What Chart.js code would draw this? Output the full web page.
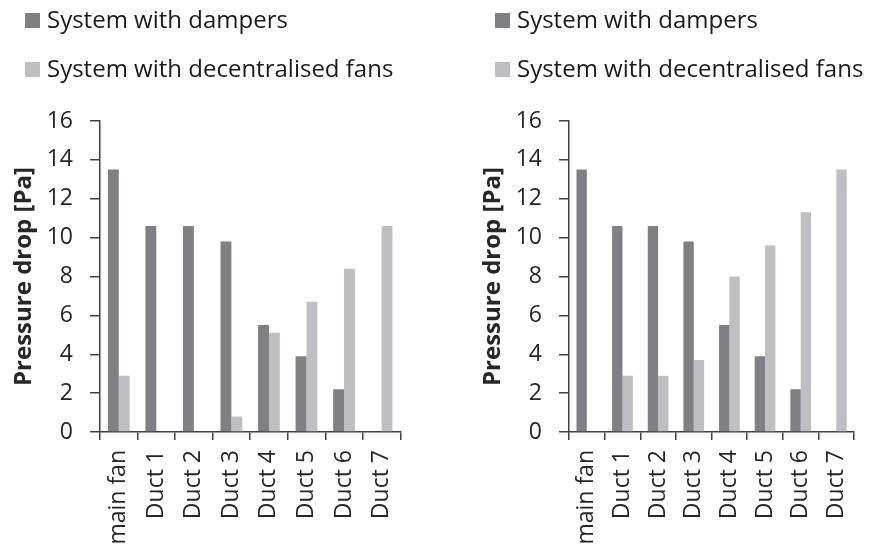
<!DOCTYPE html>
<html>
<head>
<meta charset="utf-8">
<script src="https://cdn.jsdelivr.net/npm/chart.js@4"></script>
<style>
  body { margin: 0; background: #fff; width: 874px; height: 554px; overflow: hidden; position: relative; font-family: "Open Sans", sans-serif; }
  .panel { position: absolute; top: 0; height: 554px; }
  .legend { position: absolute; left: 25px; top: 0; color: #1a1a1a; font-size: 24px; }
  .legend div { position: absolute; white-space: nowrap; line-height: 28px; }
  .legend span { display: inline-block; width: 15px; height: 15px; margin-right: 7px; vertical-align: 0px; }
</style>
</head>
<body>
<div class="panel" id="panel-left" style="left:0;width:420px">
  <div class="legend" id="legend-left"></div>
  <canvas id="chart-left"></canvas>
</div>
<div class="panel" id="panel-right" style="left:469px;width:405px">
  <div class="legend" id="legend-right" style="left:26px"></div>
  <canvas id="chart-right"></canvas>
</div>
<script>
const categories = ["main fan", "Duct 1", "Duct 2", "Duct 3", "Duct 4", "Duct 5", "Duct 6", "Duct 7"];
const seriesNames = ["System with dampers", "System with decentralised fans"];
const seriesColors = ["#7f7f84", "#bfbfc3"];

// left chart
const leftDampers = [13.5, 10.6, 10.6, 9.8, 5.5, 3.9, 2.2, 0];
const leftFans = [2.9, 0, 0, 0.8, 5.1, 6.7, 8.4, 10.6];

// right chart
const rightDampers = [13.5, 10.6, 10.6, 9.8, 5.5, 3.9, 2.2, 0];
const rightFans = [0, 2.9, 2.9, 3.7, 8.0, 9.6, 11.3, 13.5];

const yMin = 0, yMax = 16, yStep = 2;
const yTitle = "Pressure drop [Pa]";

const axisColor = "#404040";
const textColor = "#262626";
const fontFamily = "'Open Sans', sans-serif";

function buildLegend(id) {
    const box = document.getElementById(id);
    seriesNames.forEach((name, i) => {
        const row = document.createElement("div");
        row.style.top = (5 + i * 49) + "px";
        row.innerHTML = `<span style="background:${seriesColors[i]}"></span>${name}`;
        box.appendChild(row);
    });
}

function makeChart(canvasId, dampers, fans, padRight) {
    const ctx = document.getElementById(canvasId).getContext("2d");
    return new Chart(ctx, {
        type: 'bar',
        data: {
            labels: categories,
            datasets: [
                { label: seriesNames[0], data: dampers, backgroundColor: seriesColors[0] },
                { label: seriesNames[1], data: fans, backgroundColor: seriesColors[1] }
            ]
        },
        options: {
            responsive: true,
            maintainAspectRatio: false,
            animation: false,
            categoryPercentage: 0.58,
            barPercentage: 1.0,
            layout: { padding: { top: 121, left: 0, right: padRight, bottom: 0 } },
            plugins: { legend: { display: false }, tooltip: { enabled: false } },
            scales: {
                x: {
                    grid: { drawOnChartArea: false, drawTicks: true, tickLength: 8, color: axisColor, lineWidth: 1.5 },
                    border: { color: axisColor, width: 1.5 },
                    ticks: {
                        autoSkip: false, minRotation: 90, maxRotation: 90, padding: 10,
                        color: textColor, font: { family: fontFamily, size: 23 }
                    },
                    afterFit: scale => { scale.height = 122; }
                },
                y: {
                    min: yMin, max: yMax,
                    grid: { drawOnChartArea: false, drawTicks: true, tickLength: 10, color: axisColor, lineWidth: 1.5 },
                    border: { color: axisColor, width: 1.5 },
                    ticks: { stepSize: yStep, padding: 17, color: textColor, font: { family: fontFamily, size: 23 } },
                    title: {
                        display: true, text: yTitle, color: textColor,
                        font: { family: fontFamily, size: 24, weight: 'bold' },
                        padding: { top: 10, bottom: 0 }
                    },
                    afterFit: scale => { scale.width = 100; }
                }
            }
        }
    });
}

buildLegend("legend-left");
buildLegend("legend-right");
makeChart("chart-left", leftDampers, leftFans, 13);
makeChart("chart-right", rightDampers, rightFans, 1);
</script>
</body>
</html>
